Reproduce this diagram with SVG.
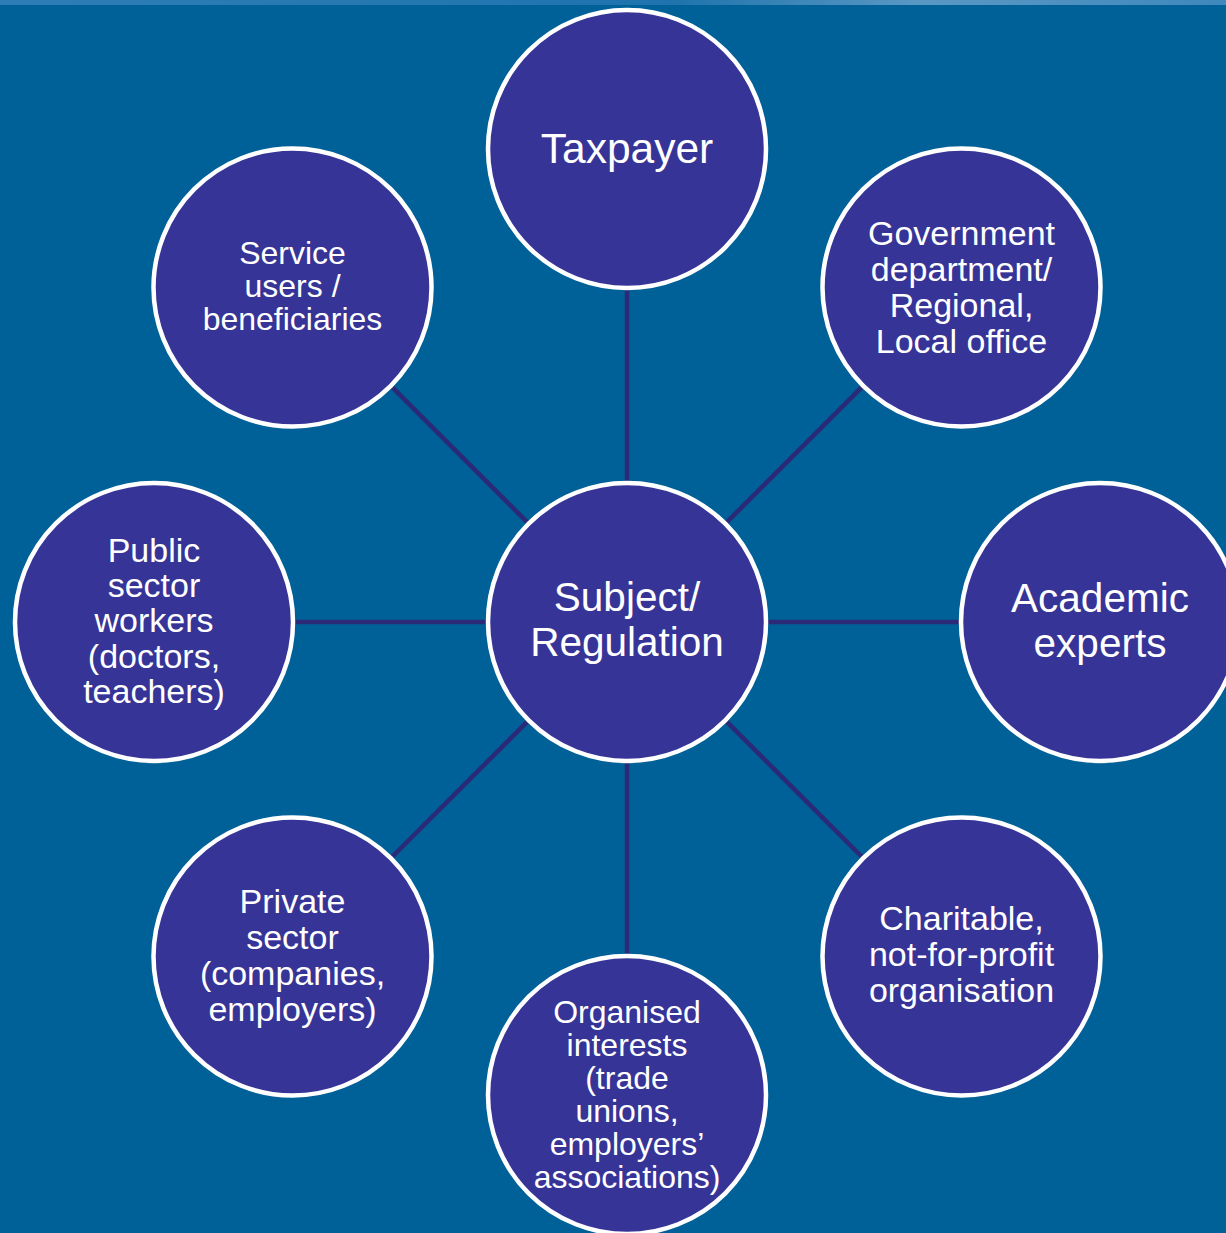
<svg xmlns="http://www.w3.org/2000/svg" width="1226" height="1233" viewBox="0 0 1226 1233">
<defs>
<linearGradient id="band" x1="0" y1="0" x2="1" y2="0">
<stop offset="0" stop-color="#2f7db6"/>
<stop offset="0.55" stop-color="#1f74ad"/>
<stop offset="0.75" stop-color="#5a98c4"/>
<stop offset="1" stop-color="#3f88bd"/>
</linearGradient>
</defs>
<style>
.node circle{fill:#363497;stroke:#ffffff;stroke-width:4.5}
.conn line{stroke:#2b2a78;stroke-width:4.5}
text{font-family:"Liberation Sans",Arial,sans-serif;fill:#ffffff;text-anchor:middle}
.big{font-size:42.5px}
.two{font-size:40.5px}
.mid{font-size:34px}
.sm{font-size:32px}
</style>
<rect x="0" y="0" width="1226" height="1233" fill="#006098"/>
<rect x="0" y="0" width="1226" height="5" fill="url(#band)"/>
<g id="connectors" class="conn">
<line x1="627" y1="622" x2="627" y2="149"/>
<line x1="627" y1="622" x2="627" y2="1095"/>
<line x1="627" y1="622" x2="154" y2="622"/>
<line x1="627" y1="622" x2="1100" y2="622"/>
<line x1="627" y1="622" x2="292.5" y2="287.5"/>
<line x1="627" y1="622" x2="961.5" y2="287.5"/>
<line x1="627" y1="622" x2="292.5" y2="956.5"/>
<line x1="627" y1="622" x2="961.5" y2="956.5"/>
</g>
<g id="taxpayer" class="node">
<circle cx="627" cy="149" r="139"/>
<text class="big" x="627" y="163">Taxpayer</text>
</g>
<g id="service-users" class="node">
<circle cx="292.5" cy="287.5" r="139"/>
<text class="sm" x="292.5" y="264">Service</text>
<text class="sm" x="292.5" y="297">users /</text>
<text class="sm" x="292.5" y="330">beneficiaries</text>
</g>
<g id="government" class="node">
<circle cx="961.5" cy="287.5" r="139"/>
<text class="mid" x="961.5" y="245">Government</text>
<text class="mid" x="961.5" y="281">department/</text>
<text class="mid" x="961.5" y="317">Regional,</text>
<text class="mid" x="961.5" y="353">Local office</text>
</g>
<g id="public-sector" class="node">
<circle cx="154" cy="622" r="139"/>
<text class="mid" x="154" y="562">Public</text>
<text class="mid" x="154" y="597">sector</text>
<text class="mid" x="154" y="632">workers</text>
<text class="mid" x="154" y="668">(doctors,</text>
<text class="mid" x="154" y="703">teachers)</text>
</g>
<g id="subject" class="node">
<circle cx="627" cy="622" r="139"/>
<text class="two" x="627" y="611">Subject/</text>
<text class="two" x="627" y="656">Regulation</text>
</g>
<g id="academic" class="node">
<circle cx="1100" cy="622" r="139"/>
<text class="two" x="1100" y="612">Academic</text>
<text class="two" x="1100" y="657">experts</text>
</g>
<g id="private-sector" class="node">
<circle cx="292.5" cy="956.5" r="139"/>
<text class="mid" x="292.5" y="913">Private</text>
<text class="mid" x="292.5" y="949">sector</text>
<text class="mid" x="292.5" y="985">(companies,</text>
<text class="mid" x="292.5" y="1021">employers)</text>
</g>
<g id="charitable" class="node">
<circle cx="961.5" cy="956.5" r="139"/>
<text class="mid" x="961.5" y="930">Charitable,</text>
<text class="mid" x="961.5" y="966">not-for-profit</text>
<text class="mid" x="961.5" y="1002">organisation</text>
</g>
<g id="organised-interests" class="node">
<circle cx="627" cy="1095" r="139"/>
<text class="sm" x="627" y="1023">Organised</text>
<text class="sm" x="627" y="1056">interests</text>
<text class="sm" x="627" y="1089">(trade</text>
<text class="sm" x="627" y="1122">unions,</text>
<text class="sm" x="627" y="1155">employers’</text>
<text class="sm" x="627" y="1188">associations)</text>
</g>
</svg>
